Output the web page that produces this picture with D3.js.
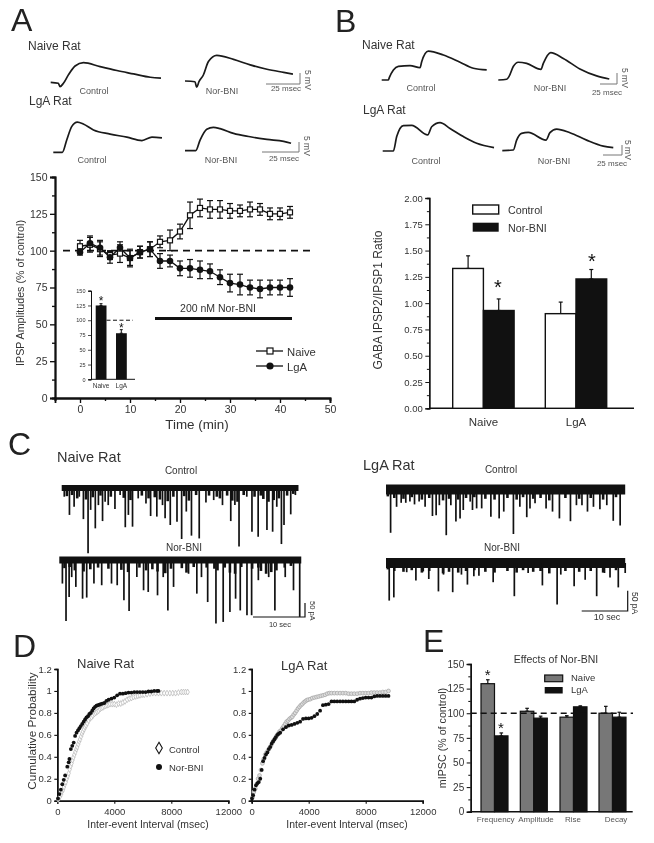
<!DOCTYPE html>
<html><head><meta charset="utf-8">
<script src="https://cdn.jsdelivr.net/npm/d3@7/dist/d3.min.js"></script>
<style>
html,body{margin:0;padding:0;background:#fff}
svg{display:block;filter:blur(0.35px)}
text{font-family:"Liberation Sans",Arial,sans-serif;fill:#333}
</style></head><body>
<svg id="fig" width="654" height="843"></svg>
<script>
// ---------- Panel A time course
const timeMin=[0,2,4,6,8,10,12,14,16,18,20,22,24,26,28,30,32,34,36,38,40,42];
const ipspNaive=[103,104,101,97,98,95,99,101,106,107,113,124,129,128,128,127,127,128,128,125,125,126];
const ipspNaiveErr=[4,5,5,3,6,6,4,5,4,7,5,9,6,6,6,5,4,5,4,4,4,4];
const ipspLgA=[99,105,102,95.5,102,95,99,101,93,93,88,88,87,86,82,78,77,75,74,75,75,75];
const ipspLgAErr=[2,5,5,4,4,5,4,5,5,4,5,6,6,5,5,6,7,5,6,5,5,6];
const insetCats=["Naive","LgA"];
const insetVals=[125,78];
const insetErr=[3,6];
// ---------- Panel B bars
const ratioGroups=["Naive","LgA"];
const ratioControl=[1.33,0.90];
const ratioControlErr=[0.12,0.11];
const ratioNor=[0.93,1.23];
const ratioNorErr=[0.11,0.09];
// ---------- Panel E bars
const mipscCats=["Frequency","Amplitude","Rise","Decay"];
const mipscNaive=[130,102,96,100];
const mipscNaiveErr=[4,3,1.5,7];
const mipscLgA=[77,95,106.5,96];
const mipscLgAErr=[3,2,1,5];
// ---------- Traces [ms, mV]
const trAnc=[[0,0],[5.6,-.4],[6.8,-1.8],[9.3,-.4],[12.9,3.1],[17.8,6.8],[23.9,8.2],[36.1,6.5],[48.3,4.9],[60.5,3.5],[72.7,2.1],[80.5,1.7]];
const trAnn=[[0,0],[7.3,-.3],[8.5,-2.6],[10.2,-.3],[13.4,2.5],[17.1,8.1],[23.2,10.7],[35.4,9],[47.6,6.7],[59.8,4.9],[72,3.6],[78.8,2.9]];
const trAlc=[[0,0],[6.6,0],[9.8,5.1],[13.4,10.7],[17.6,12.6],[21.9,11.8],[29.3,9.3],[41.5,7.6],[53.7,6.3],[64.7,4.9],[72,6.3],[79.3,6]];
const trAln=[[0,0],[7.8,0],[11,4.4],[15.9,8.9],[20.7,9.7],[25.6,9.2],[35.4,7.2],[47.6,5.8],[59.8,4.7],[72,3.9],[77.4,3.1]];
const trBnc=[[0,0],[9.8,0],[11.3,1.1],[17.2,4.2],[24.5,5.7],[41.7,6],[56.4,5.1],[58.8,7.6],[68.6,12],[90.7,10.4],[115.2,7.4],[134.8,4.9],[154.4,4.2]];
const trBnn=[[0,0],[12.3,.3],[15.7,1.4],[22,5.6],[29.4,7.4],[41.7,6.9],[62.7,4.4],[66.2,6.9],[77,11.4],[95.6,9],[120,4.6],[144.6,1.7],[163.2,.4]];
const trBlc=[[0,0],[15.7,0],[20.6,6],[30.4,10.6],[42.6,10.7],[66.2,6.7],[72,10.1],[84.3,11.8],[99,9.4],[118.6,6],[138.2,3.2],[163.7,1.4]];
const trBln=[[0,0],[16.2,.3],[21.1,4.4],[28.4,7.2],[38.2,7.6],[64.2,4.4],[70.1,7.5],[79.9,9],[99.5,7.5],[124,4.4],[148.5,1.9],[163.2,1.25]];
// ---------- mIPSC events [s, pA]
const evNc=[[.5,24],[1.5,89],[2.4,60],[3.4,24],[4.2,104],[5.1,226],[5.6,71],[6.5,137],[7.1,54],[7.9,111],[8.4,42],[9,54],[10.3,68],[11.3,18],[12.3,133],[12.9,89],[13.7,131],[14.8,30],[16.3,48],[17.2,93],[18.4,95],[19.5,54],[20,101],[21,125],[22.3,113],[23.2,175],[24.1,77],[25.1,163],[26.6,173],[27.9,45],[29.4,36],[31.1,54],[32.7,111],[33.5,54],[34.3,202],[35.8,24],[36.8,149],[38,167],[39.7,143],[40.8,149],[41.6,60],[42.5,193],[43,125],[44.3,87],[45.2,18]];
const evNn=[[.6,77],[1.3,211],[1.9,125],[2.4,54],[3.2,89],[4.5,131],[5.3,127],[6.7,77],[8.2,83],[10.1,77],[11.2,83],[12.5,137],[13.5,175],[15,54],[16.3,101],[17.2,107],[19,119],[20.1,54],[21,173],[22.1,89],[25,42],[26.6,113],[27.5,54],[28.7,143],[30.3,220],[31.7,214],[33,179],[34.1,131],[35,173],[36.3,190],[37.2,190],[38.5,65],[40.5,54],[41.7,173],[43.7,54],[45.3,101],[46.5,196]];
const evLc=[[1,107],[2.3,42],[3.3,32],[4.3,32],[5.2,29],[6.2,36],[7.2,29],[8.5,42],[10.1,65],[10.9,63],[11.6,38],[13.1,113],[14.1,38],[15.2,79],[16.1,71],[16.8,50],[18.3,29],[18.8,50],[19.7,46],[20.8,46],[22.8,67],[24.6,71],[25.6,54],[27.7,110],[29.1,42],[30.6,68],[31.3,46],[32.4,33],[34.8,46],[36.2,54],[37.7,71],[40.1,78],[41.4,38],[42.6,38],[43.8,54],[45.1,42],[46.5,48],[48,38],[49.4,77],[50.9,89]];
const evLn=[[.7,94],[1.7,86],[4.5,23],[6.5,44],[8.1,21],[9.3,40],[11.4,71],[12.5,29],[14.5,73],[16.4,29],[17.7,54],[19.1,33],[20.2,32],[23.3,48],[27.9,83],[30.9,25],[34,56],[37.2,104],[38,29],[40.9,58],[43.3,42],[45.8,83],[47.5,25],[48.7,36],[50.5,61],[52,25]];
const evSmallNaive=[[1,22],[2,18],[3,30],[4.7,34],[6,26],[7.5,20],[9.5,24],[12,28],[13.3,36],[15.5,20],[16.8,30],[18,26],[19,34],[20.5,40],[21.6,24],[23.7,22],[24.6,38],[26,18],[28.5,20],[30,24],[30.6,30],[32,20],[33,38],[34,42],[35.2,18],[37.3,24],[38.5,20],[39,32],[40,42],[41,36],[42,30],[43.6,20],[44.8,14]];
const evSmallLgA=[[.4,16],[1.8,20],[3.8,22],[5.6,18],[7.8,24],[9.4,20],[12.4,26],[13.7,22],[15.7,24],[17.4,20],[19.2,18],[21.6,22],[23.6,24],[26.4,20],[28.4,24],[29.8,18],[32,22],[33.6,20],[35.5,26],[39,20],[42,22],[44.5,20],[47.2,24],[50,18]];
// ---------- Panel D cumulative curves [msec, probability]
const cdfNaiveControl=[[60,.01],[130,.025],[200,.04],[270,.06],[340,.085],[400,.1],[470,.125],[540,.15],[600,.17],[670,.2],[740,.225],[800,.25],[870,.285],[940,.315],[1000,.34],[1070,.37],[1130,.395],[1200,.42],[1270,.445],[1340,.47],[1400,.49],[1470,.515],[1540,.54],[1600,.56],[1670,.585],[1740,.61],[1800,.63],[1880,.65],[1950,.67],[2020,.685],[2100,.705],[2200,.73],[2300,.75],[2400,.76],[2500,.775],[2600,.79],[2700,.8],[2800,.81],[2900,.82],[3000,.835],[3100,.845],[3200,.85],[3300,.86],[3400,.865],[3500,.87],[3600,.875],[3700,.88],[3850,.88],[4000,.88],[4150,.875],[4300,.885],[4450,.885],[4600,.895],[4750,.905],[4900,.92],[5050,.93],[5200,.935],[5350,.945],[5500,.95],[5650,.955],[5800,.96],[5950,.965],[6100,.965],[6300,.97],[6500,.975],[6700,.98],[6900,.98],[7100,.98],[7300,.98],[7500,.98],[7700,.98],[7900,.98],[8100,.98],[8300,.98],[8500,.985],[8700,.99],[8850,.99],[9000,.99],[9150,.99]];
const cdfNaiveNor=[[50,.02],[150,.06],[250,.1],[350,.15],[450,.19],[550,.23],[700,.31],[800,.35],[850,.38],[950,.47],[1050,.5],[1150,.53],[1250,.59],[1350,.62],[1450,.64],[1550,.66],[1650,.68],[1750,.7],[1850,.72],[1950,.74],[2050,.76],[2150,.77],[2250,.79],[2350,.8],[2450,.82],[2550,.84],[2650,.855],[2750,.865],[2850,.87],[2950,.875],[3050,.88],[3150,.885],[3300,.89],[3450,.91],[3600,.92],[3800,.93],[4000,.94],[4200,.96],[4400,.975],[4600,.975],[4800,.98],[5000,.985],[5200,.985],[5400,.99],[5600,.99],[5800,.99],[6000,.99],[6200,.99],[6400,.995],[6600,.995],[6800,1],[7000,1],[7100,1]];
const cdfLgAControl=[[60,.03],[150,.08],[250,.11],[350,.15],[450,.2],[550,.23],[650,.28],[750,.34],[850,.38],[950,.42],[1050,.44],[1150,.46],[1250,.48],[1350,.5],[1450,.53],[1550,.55],[1650,.57],[1750,.59],[1850,.61],[1950,.63],[2050,.64],[2150,.66],[2250,.68],[2350,.7],[2450,.72],[2550,.73],[2650,.745],[2750,.755],[2850,.765],[2950,.785],[3050,.8],[3150,.82],[3250,.84],[3350,.855],[3450,.87],[3550,.88],[3650,.895],[3750,.905],[3850,.915],[3950,.92],[4100,.925],[4250,.935],[4400,.94],[4550,.945],[4700,.95],[4850,.955],[5000,.96],[5150,.965],[5300,.975],[5450,.98],[5600,.98],[5800,.98],[6000,.98],[6200,.98],[6400,.98],[6600,.98],[6800,.975],[7000,.975],[7200,.975],[7400,.975],[7600,.98],[7800,.98],[8000,.98],[8200,.98],[8400,.985],[8600,.985],[8800,.985],[9000,.985],[9200,.99],[9400,.99],[9600,1]];
const cdfLgANor=[[20,.02],[100,.05],[200,.1],[300,.14],[400,.16],[500,.17],[600,.2],[700,.28],[800,.36],[900,.39],[1000,.42],[1100,.44],[1200,.47],[1300,.49],[1400,.52],[1500,.54],[1600,.56],[1700,.58],[1800,.6],[1900,.61],[2000,.62],[2200,.65],[2400,.67],[2600,.685],[2800,.69],[3000,.7],[3200,.71],[3400,.72],[3600,.745],[3800,.75],[4000,.75],[4200,.755],[4400,.77],[4600,.79],[4800,.82],[5000,.87],[5200,.875],[5400,.88],[5600,.905],[5800,.905],[6000,.905],[6200,.905],[6400,.905],[6600,.905],[6800,.905],[7000,.905],[7200,.905],[7400,.92],[7600,.93],[7800,.935],[8000,.94],[8200,.94],[8400,.94],[8600,.95],[8800,.955],[9000,.955],[9200,.955],[9400,.955],[9600,.955]];

const svg=d3.select("#fig");
const INK="#111", TXT="#333";
function label(x,y,s,size,opt={}){
  const t=svg.append("text").attr("x",x).attr("y",y).attr("font-size",size).text(s);
  if(opt.anchor)t.attr("text-anchor",opt.anchor);
  if(opt.rot)t.attr("transform",`rotate(${opt.rot} ${x} ${y})`);
  if(opt.fill)t.style("fill",opt.fill);
  return t;
}
function styleAxis(g,w,size){
  g.selectAll(".domain").attr("stroke",INK).attr("stroke-width",w);
  g.selectAll(".tick line").attr("stroke",INK).attr("stroke-width",w*0.75);
  g.selectAll(".tick text").attr("font-size",size).style("fill",TXT);
}
function yAxis(x,scale,ticks,fmt,minor,size,w,len=5){
  const gm=svg.append("g").attr("transform",`translate(${x},0)`).call(d3.axisLeft(scale).tickValues(minor).tickSize(len*0.6).tickFormat(""));
  styleAxis(gm,w,size);
  const g=svg.append("g").attr("transform",`translate(${x},0)`).call(d3.axisLeft(scale).tickValues(ticks).tickSize(len).tickFormat(fmt));
  styleAxis(g,w,size);
  g.selectAll(".tick text").attr("x",-(len+2.5));
}
function xAxis(y,scale,ticks,minor,size,w,len=5,pad=3){
  const gm=svg.append("g").attr("transform",`translate(0,${y})`).call(d3.axisBottom(scale).tickValues(minor).tickSize(len*0.6).tickFormat(""));
  styleAxis(gm,w,size);
  const g=svg.append("g").attr("transform",`translate(0,${y})`).call(d3.axisBottom(scale).tickValues(ticks).tickSize(len).tickFormat(d3.format("d")));
  styleAxis(g,w,size);
  g.selectAll(".tick text").attr("y",len+pad);
}
function errBar(x,y1,y2,cap,w=1.4){
  svg.append("line").attr("x1",x).attr("x2",x).attr("y1",y1).attr("y2",y2).attr("stroke",INK).attr("stroke-width",w);
  [y1,y2].forEach(y=>svg.append("line").attr("x1",x-cap).attr("x2",x+cap).attr("y1",y).attr("y2",y).attr("stroke",INK).attr("stroke-width",w));
}
function star(x,y,size){label(x,y,"*",size,{anchor:"middle",fill:"#111"});}
function dash(x1,x2,y,w=2,pat="8 5"){
  svg.append("line").attr("x1",x1).attr("x2",x2).attr("y1",y).attr("y2",y).attr("stroke",INK).attr("stroke-width",w).attr("stroke-dasharray",pat);
}
function scaleBar(xl,xr,yb,yt){
  svg.append("path").attr("d",`M${xl},${yb}H${xr}V${yt}`).attr("fill","none").attr("stroke","#777").attr("stroke-width",1);
}
function trace(data,x0,y0,pxPerMs,pxPerMv){
  const tx=d3.scaleLinear().domain([0,25]).range([x0,x0+25*pxPerMs]);
  const ty=d3.scaleLinear().domain([0,5]).range([y0,y0-5*pxPerMv]);
  const line=d3.line().x(d=>tx(d[0])).y(d=>ty(d[1])).curve(d3.curveMonotoneX);
  svg.append("path").attr("d",line(data)).attr("fill","none").attr("stroke","#1a1a1a").attr("stroke-width",1.7);
}

// ===== Letters
[["A",11,31],["B",335,32],["C",8,455],["D",13,657],["E",423,652]].forEach(d=>label(d[1],d[2],d[0],32,{fill:"#222"}));

// ===== Panel A traces
label(28,50,"Naive Rat",12); label(29,105,"LgA Rat",12);
[[94,94,"Control"],[222,94,"Nor-BNI"],[92,163,"Control"],[221,163,"Nor-BNI"]].forEach(d=>label(d[0],d[1],d[2],9,{anchor:"middle",fill:"#555"}));
trace(trAnc,50.7,82.3,1.37,2.4); trace(trAnn,185,81,1.37,2.4); trace(trAlc,53.3,152.3,1.37,2.4); trace(trAln,185,150.7,1.37,2.4);
scaleBar(266,300,84,73); scaleBar(262,299,152,142);
label(286,91,"25 msec",8,{anchor:"middle",fill:"#555"}); label(284,161,"25 msec",8,{anchor:"middle",fill:"#555"});
label(305,70,"5 mV",8.5,{rot:90,fill:"#555"}); label(304,136,"5 mV",8.5,{rot:90,fill:"#555"});

// ===== Panel A plot
const ax=d3.scaleLinear().domain([-5,50]).range([55,330]);
const ay=d3.scaleLinear().domain([0,150]).range([398,177]);
yAxis(ax(-5),ay,d3.range(0,151,25),d3.format("d"),d3.range(12.5,150,25),10.5,1.8);
xAxis(ay(0),ax,d3.range(0,51,10),d3.range(-5,50,10),10.5,1.8);
label(24,293,"IPSP Amplitudes (% of control)",10.7,{rot:-90,anchor:"middle"});
label(197,429,"Time (min)",13.4,{anchor:"middle"});
dash(ax(-3.4),ax(46),ay(100),1.8,"7 5");
const aline=d3.line().x((d,i)=>ax(timeMin[i])).y(d=>ay(d));
[[ipspNaive,ipspNaiveErr],[ipspLgA,ipspLgAErr]].forEach(([v,e],k)=>{
  v.forEach((d,i)=>errBar(ax(timeMin[i]),ay(d-e[i]),ay(d+e[i]),3,1.2));
  svg.append("path").attr("d",aline(v)).attr("fill","none").attr("stroke",INK).attr("stroke-width",1.3);
});
svg.selectAll(".n").data(ipspNaive).enter().append("rect").attr("x",(d,i)=>ax(timeMin[i])-2.5).attr("y",d=>ay(d)-2.5).attr("width",5).attr("height",5).attr("fill","#fff").attr("stroke",INK).attr("stroke-width",1.2);
svg.selectAll(".l").data(ipspLgA).enter().append("circle").attr("cx",(d,i)=>ax(timeMin[i])).attr("cy",d=>ay(d)).attr("r",3.3).attr("fill",INK);
svg.append("line").attr("x1",ax(15)).attr("x2",ax(42.4)).attr("y1",ay(54)).attr("y2",ay(54)).attr("stroke",INK).attr("stroke-width",3);
label(218,312,"200 nM Nor-BNI",10.5,{anchor:"middle"});
svg.append("line").attr("x1",256).attr("x2",283).attr("y1",351).attr("y2",351).attr("stroke",INK).attr("stroke-width",1.3);
svg.append("rect").attr("x",267).attr("y",348).attr("width",6).attr("height",6).attr("fill","#fff").attr("stroke",INK).attr("stroke-width",1.2);
svg.append("line").attr("x1",256).attr("x2",283).attr("y1",366).attr("y2",366).attr("stroke",INK).attr("stroke-width",1.3);
svg.append("circle").attr("cx",270).attr("cy",366).attr("r",3.6).attr("fill",INK);
label(287,355.5,"Naive",11.3); label(287,370.5,"LgA",11.3);

// inset
const iy=d3.scaleLinear().domain([0,150]).range([379.3,290.7]);
const insetScale=d3.scaleOrdinal().domain(insetCats).range([95.7,116]);
yAxis(91,iy,d3.range(0,151,25),d3.format("d"),[],5.5,1,3);
svg.append("line").attr("x1",91).attr("x2",135).attr("y1",iy(0)).attr("y2",iy(0)).attr("stroke",INK).attr("stroke-width",1);
insetCats.forEach((c,i)=>{
  const x=insetScale(c);
  errBar(x+5.3,iy(insetVals[i]),iy(insetVals[i]+insetErr[i]),1.5,1);
  svg.append("rect").attr("x",x).attr("y",iy(insetVals[i])).attr("width",10.8).attr("height",iy(0)-iy(insetVals[i])).attr("fill",INK);
  label(x+5.4,388,c,6.5,{anchor:"middle"});
  star(x+5.4,305+i*27,12);
});
dash(106.5,133,iy(100),1,"4 2.5");

// ===== Panel B traces
label(362,49,"Naive Rat",12); label(363,114,"LgA Rat",12);
[[421,91,"Control"],[550,91,"Nor-BNI"],[426,164,"Control"],[554,164,"Nor-BNI"]].forEach(d=>label(d[0],d[1],d[2],9,{anchor:"middle",fill:"#555"}));
trace(trBnc,381.7,80,0.68,2.4); trace(trBnn,498.3,80,0.68,2.4); trace(trBlc,382.7,151,0.68,2.4); trace(trBln,502.3,150.7,0.68,2.4);
scaleBar(600,617,84,73); scaleBar(603,622,155,145);
label(607,95,"25 msec",8,{anchor:"middle",fill:"#555"}); label(612,166,"25 msec",8,{anchor:"middle",fill:"#555"});
label(622,68,"5 mV",8.5,{rot:90,fill:"#555"}); label(625,140,"5 mV",8.5,{rot:90,fill:"#555"});

// ===== Panel B plot
const by=d3.scaleLinear().domain([0,2]).range([408.3,198]);
const bGroup=d3.scaleOrdinal().domain(ratioGroups).range([452.7,545.3]);
yAxis(429.3,by,d3.range(0,2.01,.25),d3.format(".2f"),d3.range(.125,2,.25),9.5,1.3,4);
svg.append("line").attr("x1",429.3).attr("x2",634).attr("y1",by(0)).attr("y2",by(0)).attr("stroke",INK).attr("stroke-width",1.4);
ratioGroups.forEach((g,i)=>{
  const x=bGroup(g);
  errBar(x+15.4,by(ratioControl[i]),by(ratioControl[i]+ratioControlErr[i]),2,1.2);
  svg.append("rect").attr("x",x).attr("y",by(ratioControl[i])).attr("width",30.7).attr("height",by(0)-by(ratioControl[i])).attr("fill","#fff").attr("stroke",INK).attr("stroke-width",1.4);
  errBar(x+46,by(ratioNor[i]),by(ratioNor[i]+ratioNorErr[i]),2,1.2);
  svg.append("rect").attr("x",x+30.7).attr("y",by(ratioNor[i])).attr("width",30.7).attr("height",by(0)-by(ratioNor[i])).attr("fill",INK).attr("stroke",INK).attr("stroke-width",1.4);
  label(x+30.7,426,g,11.5,{anchor:"middle"});
});
star(498,293.5,20); star(592,268,20);
svg.append("rect").attr("x",472.7).attr("y",205).attr("width",26).attr("height",9).attr("fill","#fff").attr("stroke",INK).attr("stroke-width",1.4);
svg.append("rect").attr("x",472.7).attr("y",222.7).attr("width",26).attr("height",9).attr("fill",INK);
label(508,214,"Control",10.7); label(508,232,"Nor-BNI",10.7);
label(382,300,"GABA IPSP2/IPSP1 Ratio",12,{rot:-90,anchor:"middle"});

// ===== Panel C traces
function events(ev,small,x0,y0,pxS,pxPa,span,bandTop,bandH){
  const tx=d3.scaleLinear().domain([0,10]).range([x0,x0+10*pxS]);
  const ty=d3.scaleLinear().domain([0,50]).range([y0,y0+50*pxPa]);
  svg.append("rect").attr("x",tx(0)).attr("width",tx(span)-tx(0)).attr("y",bandTop).attr("height",bandH).attr("fill",INK);
  const g=svg.append("g");
  g.selectAll("line.s").data(small).enter().append("line").attr("x1",d=>tx(d[0])).attr("x2",d=>tx(d[0])).attr("y1",ty(0)).attr("y2",d=>ty(d[1])).attr("stroke",INK).attr("stroke-width",2.6);
  g.selectAll("line.e").data(ev).enter().append("line").attr("x1",d=>tx(d[0])).attr("x2",d=>tx(d[0])).attr("y1",ty(0)).attr("y2",d=>ty(d[1])).attr("stroke",INK).attr("stroke-width",1.7);
}
events(evNc,evSmallNaive,61.7,490,5.17,0.28,45.8,485,6);
events(evNn,evSmallNaive,59.3,562,5.17,0.28,46.8,556.5,7);
events(evLc,evSmallLgA,386,490,4.6,0.4,52,484.5,10);
events(evLn,evSmallLgA,386,563,4.6,0.4,52,558,10);
label(57,462,"Naive Rat",14.5); label(363,470,"LgA Rat",14.5);
label(181,474,"Control",10,{anchor:"middle"}); label(184,551,"Nor-BNI",10,{anchor:"middle"});
label(501,473,"Control",10,{anchor:"middle"}); label(502,551,"Nor-BNI",10,{anchor:"middle"});
function cScale(xl,xr,yb,yt){svg.append("path").attr("d",`M${xl},${yb}H${xr}V${yt}`).attr("fill","none").attr("stroke",INK).attr("stroke-width",1.2);}
cScale(253,305,617,603); cScale(581.7,627.7,611,590.7);
label(280,627,"10 sec",7.5,{anchor:"middle"}); label(607,620,"10 sec",9,{anchor:"middle"});
label(310,601,"50 pA",7.5,{rot:90}); label(632,592,"50 pA",8.5,{rot:90});

// ===== Panel D
function cdfPanel(x0,controlPts,norPts,marker){
  const xs=d3.scaleLinear().domain([0,12000]).range([x0,x0+171]);
  const ys=d3.scaleLinear().domain([0,1.2]).range([800.7,669]);
  yAxis(x0,ys,[0,.2,.4,.6,.8,1,1.2],d3.format("~g"),[],9.5,1.5,3);
  xAxis(800.7,xs,[0,4000,8000,12000],[],9.5,1.5,3,5);
  if(marker==="diamond"){
    svg.selectAll(null).data(controlPts).enter().append("path").attr("d",d3.symbol(d3.symbolDiamond,10)()).attr("transform",d=>`translate(${xs(d[0])},${ys(d[1])})`).attr("fill","#fff").attr("stroke","#b5b5b5").attr("stroke-width",.7);
  }else{
    svg.selectAll(null).data(controlPts).enter().append("circle").attr("cx",d=>xs(d[0])).attr("cy",d=>ys(d[1])).attr("r",1.9).attr("fill","#ddd").attr("stroke","#aaa").attr("stroke-width",.8);
  }
  svg.selectAll(null).data(norPts).enter().append("circle").attr("cx",d=>xs(d[0])).attr("cy",d=>ys(d[1])).attr("r",1.9).attr("fill",INK);
}
cdfPanel(57.3,cdfNaiveControl,cdfNaiveNor,"diamond");
cdfPanel(251.7,cdfLgAControl,cdfLgANor,"circle");
label(77,668,"Naive Rat",13); label(281,670,"LgA Rat",13);
label(36,731,"Cumulative Probability",11.8,{rot:-90,anchor:"middle"});
label(148,828,"Inter-event Interval (msec)",10.4,{anchor:"middle"});
label(347,828,"Inter-event Interval (msec)",10.4,{anchor:"middle"});
svg.append("path").attr("d",d3.symbol(d3.symbolDiamond,38)()).attr("transform","translate(159,748)").attr("fill","#fff").attr("stroke",INK).attr("stroke-width",1.1);
svg.append("circle").attr("cx",159).attr("cy",767).attr("r",3).attr("fill",INK);
label(169,753,"Control",9.5); label(169,771,"Nor-BNI",9.5);

// ===== Panel E
const ey=d3.scaleLinear().domain([0,150]).range([811.7,664]);
const eGroup=d3.scaleOrdinal().domain(mipscCats).range([481,520.3,560,599]);
const eLabelX=[495.7,536,573,616];
yAxis(470.7,ey,d3.range(0,151,25),d3.format("d"),d3.range(12.5,150,25),10,1.4,4);
svg.append("line").attr("x1",470.7).attr("x2",632.7).attr("y1",ey(0)).attr("y2",ey(0)).attr("stroke",INK).attr("stroke-width",1.4);
mipscCats.forEach((c,i)=>{
  const x=eGroup(c);
  errBar(x+6.8,ey(mipscNaive[i]),ey(mipscNaive[i]+mipscNaiveErr[i]),1.8,1.2);
  svg.append("rect").attr("x",x).attr("y",ey(mipscNaive[i])).attr("width",13.5).attr("height",ey(0)-ey(mipscNaive[i])).attr("fill","#777").attr("stroke",INK).attr("stroke-width",1.2);
  errBar(x+20.3,ey(mipscLgA[i]),ey(mipscLgA[i]+mipscLgAErr[i]),1.8,1.2);
  svg.append("rect").attr("x",x+13.5).attr("y",ey(mipscLgA[i])).attr("width",13.5).attr("height",ey(0)-ey(mipscLgA[i])).attr("fill",INK).attr("stroke",INK).attr("stroke-width",1.2);
  label(eLabelX[i],822,c,8,{anchor:"middle",fill:"#555"});
});
dash(470.7,633,ey(100),1.6,"6 4");
star(487.7,680,15); star(501,733,15);
label(556,663,"Effects of Nor-BNI",10.5,{anchor:"middle"});
svg.append("rect").attr("x",544.7).attr("y",675).attr("width",18).attr("height",6.7).attr("fill","#777").attr("stroke",INK).attr("stroke-width",1.2);
svg.append("rect").attr("x",544.7).attr("y",687).attr("width",18).attr("height",6.5).attr("fill",INK);
label(571,681,"Naive",9.5); label(571,693,"LgA",9.5);
label(446,738,"mIPSC (% of control)",10.7,{rot:-90,anchor:"middle"});
</script>
</body></html>
